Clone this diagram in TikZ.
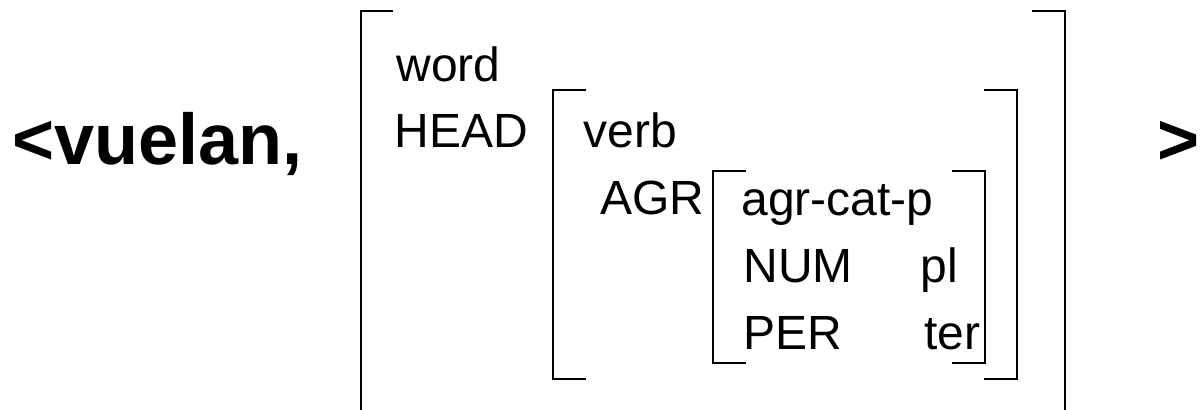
\documentclass[tikz,border=0pt]{standalone}
\usepackage{fontspec}
\setmainfont{Liberation Sans}
\begin{document}
\begin{tikzpicture}[x=0.5pt,y=-0.5pt,
  lbl/.style={anchor=base west,inner sep=0pt,font=\fontsize{24}{28}\selectfont},
  big/.style={anchor=base west,inner sep=0pt,font=\fontsize{36}{42}\selectfont\bfseries},
  brk/.style={line width=1.1pt,line cap=butt,line join=miter}]
\useasboundingbox (0,0) rectangle (1200,410);
% outer text
\node[big] (vue) at (12,164.5) {<vuelan,};
\node[big] (gt) at (1157,164.5) {>};
% outer bracket
\draw[brk] (393,11) -- (361,11) -- (361,412);
\draw[brk] (1032,11) -- (1065,11) -- (1065,412);
\node[lbl] (word) at (396,82) {word};
\node[lbl] (head) at (394,148) {HEAD};
% middle bracket
\draw[brk] (586,90) -- (553,90) -- (553,379) -- (586,379);
\draw[brk] (984,90) -- (1017,90) -- (1017,379) -- (984,379);
\node[lbl] (verb) at (583,148) {verb};
\node[lbl] (agr) at (600,215) {AGR};
% inner bracket
\draw[brk] (746,171) -- (713,171) -- (713,363) -- (746,363);
\draw[brk] (952,171) -- (985,171) -- (985,363) -- (952,363);
\node[lbl] (cat) at (741,216) {agr-cat-p};
\node[lbl] (num) at (743,283) {NUM};
\node[lbl] (pl) at (920,283) {pl};
\node[lbl] (per) at (743,350) {PER};
\node[lbl] (ter) at (924,350) {ter};
\end{tikzpicture}
\end{document}
